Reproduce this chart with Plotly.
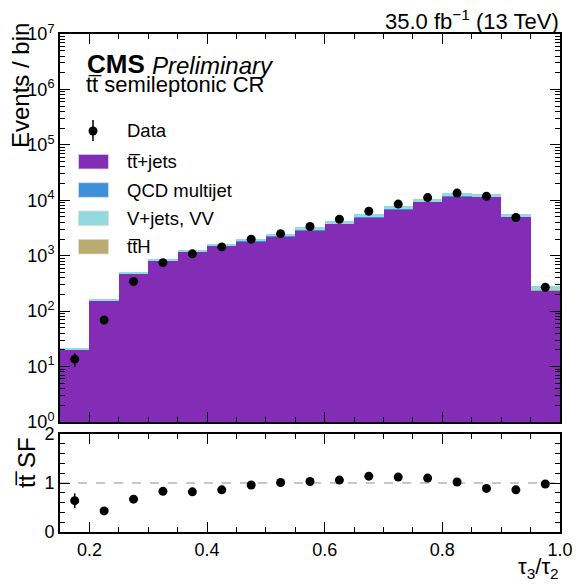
import plotly.graph_objects as go

# ---------------- data ----------------
bin_edges = [0.15, 0.20, 0.25, 0.30, 0.35, 0.40, 0.45, 0.50, 0.55, 0.60,
             0.65, 0.70, 0.75, 0.80, 0.85, 0.90, 0.95, 1.00]
bin_centers = [0.175, 0.225, 0.275, 0.325, 0.375, 0.425, 0.475, 0.525, 0.575,
               0.625, 0.675, 0.725, 0.775, 0.825, 0.875, 0.925, 0.975]
bin_width = 0.05

ttbar = [20.5, 155, 470, 830, 1200, 1530, 1800, 2250, 2900, 3780, 4950,
         6850, 9400, 11900, 11500, 5000, 240]
qcd = [0.05, 0.3, 1, 2, 3, 4, 5, 6, 8, 10, 12, 16, 20, 25, 22, 10, 1]
vjets = [1.4, 7.5, 29, 57, 86, 124, 193, 241, 336, 505, 631, 926, 1270,
         1560, 1368, 585, 40]
tth = [0.05, 0.2, 0.5, 1, 1.5, 2, 2.5, 3, 6, 5, 7, 8, 10, 15, 10, 5, 1]

data = [13.6, 69, 343, 750, 1080, 1440, 1990, 2500, 3360, 4540, 6330, 8540,
        11200, 13500, 11800, 4900, 270]
data_err = [3.7, 8.3, 18.5, 27, 33, 38, 45, 50, 58, 67, 80, 92, 106, 116,
            109, 70, 16.4]

sf = [0.64, 0.43, 0.67, 0.83, 0.82, 0.86, 0.96, 1.01, 1.03, 1.06, 1.14,
      1.12, 1.10, 1.02, 0.89, 0.86, 0.98]
sf_err = [0.15, 0.05, 0.03, 0.02, 0.02, 0.02, 0.02, 0.02, 0.02, 0.02, 0.02,
          0.02, 0.02, 0.02, 0.02, 0.02, 0.03]

y_tick_vals = [1, 10, 100, 1e3, 1e4, 1e5, 1e6, 1e7]
y_tick_text = ["10<sup>0</sup>", "10<sup>1</sup>", "10<sup>2</sup>",
               "10<sup>3</sup>", "10<sup>4</sup>", "10<sup>5</sup>",
               "10<sup>6</sup>", "10<sup>7</sup>"]
x_tick_vals = [0.2, 0.4, 0.6, 0.8, 1.0]
x_tick_text = ["0.2", "0.4", "0.6", "0.8", "1.0"]

legend_labels = ["tt\u0305+jets", "QCD multijet", "V+jets, VV", "tt\u0305H"]
colors = ["#832db6", "#3f90da", "#92dadd", "#b9ac70"]

# ---------------- figure ----------------
FONT = "Liberation Sans, Arial, Helvetica, sans-serif"
W, H = 580, 588
OFF = 8  # page body offset of the rendered figure
# target positions in screen pixels
PL, PR, PT, PB = 60, 560, 34, 532
main_bottom_px = 422
ratio_top_px = 434

ML = PL - OFF
MR = W - (PR - OFF)
MT = PT - OFF
MB = H - (PB - OFF)
plot_w = PR - PL
plot_h = PB - PT

fig = go.Figure()

# stack order (bottom to top): ttbar, ttH, QCD, V+jets
stack_order = [0, 3, 1, 2]
stacks = [ttbar, qcd, vjets, tth]
for i in stack_order:
    fig.add_trace(go.Bar(
        x=bin_centers, y=stacks[i], width=bin_width, name=legend_labels[i],
        marker=dict(color=colors[i], line=dict(width=0)),
        xaxis="x", yaxis="y", showlegend=False,
    ))

fig.add_trace(go.Scatter(
    x=bin_centers, y=data, mode="markers",
    marker=dict(color="black", size=9),
    error_y=dict(type="data", array=data_err, color="black", thickness=1.5, width=0),
    xaxis="x", yaxis="y", showlegend=False,
))

fig.add_trace(go.Scatter(
    x=bin_centers, y=sf, mode="markers",
    marker=dict(color="black", size=9),
    error_y=dict(type="data", array=sf_err, color="black", thickness=1.5, width=0),
    xaxis="x2", yaxis="y2", showlegend=False,
))

log_minor = [m * 10 ** e for e in range(0, 7) for m in range(2, 10)]

axis_common = dict(
    showline=True, linecolor="black", linewidth=2, mirror="ticks",
    ticks="inside", ticklen=10, tickwidth=1, tickcolor="black",
    showgrid=False, zeroline=False, automargin=False,
    tickfont=dict(family=FONT, size=18, color="black"),
)

fig.update_layout(
    template="none",
    width=W, height=H,
    margin=dict(l=ML, r=MR, t=MT, b=MB, pad=0),
    paper_bgcolor="white", plot_bgcolor="white",
    barmode="stack", bargap=0,
    font=dict(family=FONT, color="black"),
    showlegend=False,
    xaxis=dict(
        **axis_common, range=[0.15, 1.0], tickvals=x_tick_vals,
        showticklabels=False, anchor="y",
        minor=dict(dtick=0.05, tick0=0.15, ticks="inside", ticklen=5,
                   tickcolor="black", showgrid=False),
    ),
    yaxis=dict(
        **axis_common, type="log", range=[0, 7],
        tickvals=y_tick_vals, ticktext=y_tick_text,
        domain=[(PB - main_bottom_px) / plot_h, 1.0], anchor="x",
        minor=dict(tickvals=log_minor, ticks="inside", ticklen=5,
                   tickcolor="black", showgrid=False),
    ),
    xaxis2=dict(
        **axis_common, range=[0.15, 1.0], tickvals=x_tick_vals,
        ticktext=x_tick_text, matches="x", anchor="y2",
        minor=dict(dtick=0.05, tick0=0.15, ticks="inside", ticklen=5,
                   tickcolor="black", showgrid=False),
    ),
    yaxis2=dict(
        **axis_common, range=[0, 2], tickvals=[0, 1, 2],
        domain=[0, (PB - ratio_top_px) / plot_h], anchor="x2",
        minor=dict(dtick=0.2, tick0=0, ticks="inside", ticklen=5,
                   tickcolor="black", showgrid=False),
    ),
)

# dashed reference line at SF = 1
fig.add_shape(type="line", xref="x2 domain", yref="y2", x0=0, x1=1, y0=1, y1=1,
              line=dict(color="#b5b5b5", width=1.5, dash="dash"), layer="below")

def px_to_paper(px, py):
    return (px - PL) / plot_w, (PB - py) / plot_h

annotations = []

def add_text(px, py, text, size, xanchor="left", yanchor="middle", textangle=0):
    x, y = px_to_paper(px, py)
    annotations.append(dict(
        x=x, y=y, xref="paper", yref="paper", text=text, showarrow=False,
        xanchor=xanchor, yanchor=yanchor, textangle=textangle,
        font=dict(family=FONT, size=size, color="black"),
    ))

add_text(561, 20, "35.0 fb<sup>\u22121</sup> (13 TeV)", 22, xanchor="right")
add_text(85, 64, "<b>CMS</b>", 26)
add_text(150, 65, "<i>Preliminary</i>", 24)
add_text(84, 84, "tt\u0305 semileptonic CR", 22)
add_text(21, 86, "Events / bin", 24, xanchor="center", textangle=-90)
add_text(26, 463, "tt\u0305 SF", 24, xanchor="center", textangle=-90)
add_text(561, 568, "\u03c4<sub>3</sub>/\u03c4<sub>2</sub>", 22, xanchor="right")

# manual legend
leg_text_x = 125
add_text(leg_text_x, 131, "Data", 18.5)
fx, fy = px_to_paper(93, 131)
fig.add_shape(type="circle", xref="paper", yref="paper",
              x0=fx - 4.5 / plot_w, x1=fx + 4.5 / plot_w,
              y0=fy - 4.5 / plot_h, y1=fy + 4.5 / plot_h,
              fillcolor="black", line=dict(color="black", width=0))
y_top, y_bot = px_to_paper(93, 120)[1], px_to_paper(93, 141)[1]
fig.add_shape(type="line", xref="paper", yref="paper", x0=fx, x1=fx,
              y0=y_bot, y1=y_top, line=dict(color="black", width=1.5))

patch_centers = [161.7, 190.0, 218.3, 246.7]
for cy, col, lab in zip(patch_centers, colors, legend_labels):
    x0, y0 = px_to_paper(78.5, cy + 7.3)
    x1, y1 = px_to_paper(108.5, cy - 7.3)
    fig.add_shape(type="rect", xref="paper", yref="paper",
                  x0=x0, x1=x1, y0=y0, y1=y1, fillcolor=col,
                  line=dict(color="#dcdcdc", width=0.8))
    add_text(leg_text_x, cy, lab, 18.5)

fig.update_layout(annotations=annotations)

fig.write_html("out.html")
